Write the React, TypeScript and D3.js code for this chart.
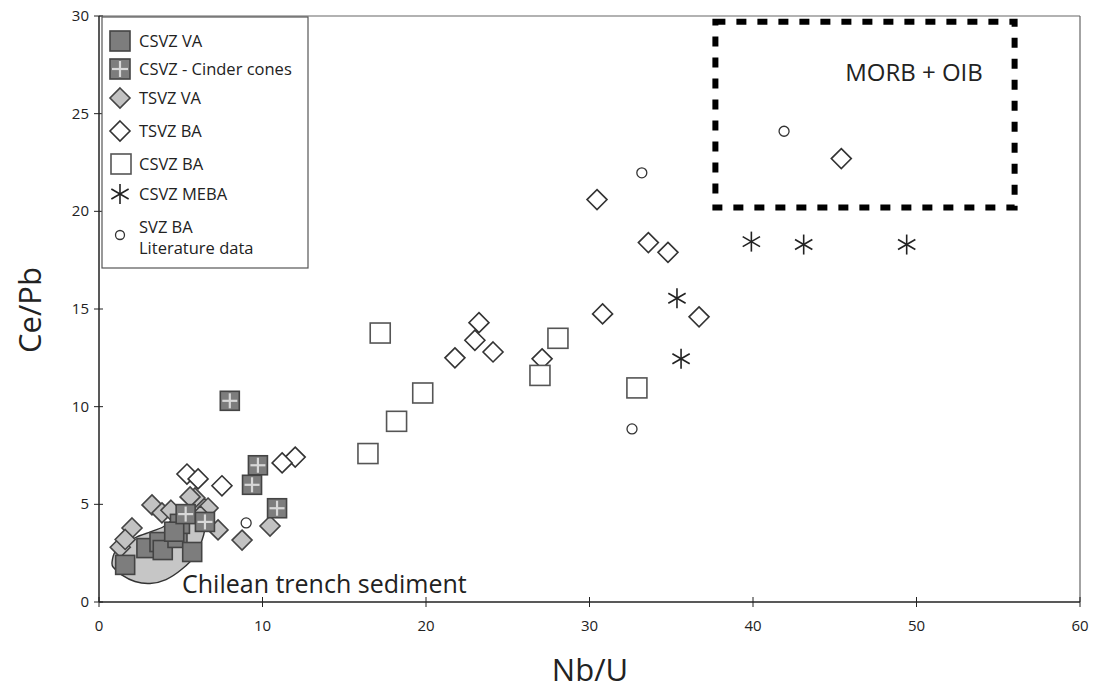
import React from "react";
import * as d3 from "d3";

// Nb/U vs Ce/Pb for Southern Volcanic Zone samples
type Pt = [number, number];

const xTicks = [0, 10, 20, 30, 40, 50, 60];
const yTicks = [0, 5, 10, 15, 20, 25, 30];

const csvzVA: Pt[] = [
  [1.6, 1.9], [2.9, 2.76], [3.7, 3.07], [3.9, 2.66], [4.8, 3.28],
  [5.7, 2.56], [4.95, 4.0], [4.6, 3.6],
];
const csvzCinder: Pt[] = [
  [8.0, 10.3], [9.72, 7.0], [9.36, 6.0], [10.89, 4.8], [6.48, 4.1], [5.3, 4.5],
];
const tsvzVA: Pt[] = [
  [8.75, 3.17], [10.46, 3.89], [7.28, 3.69], [2.02, 3.79], [3.24, 4.97],
  [3.85, 4.56], [5.87, 5.33], [6.67, 4.81], [5.57, 5.38], [1.3, 2.8],
  [1.6, 3.2], [4.4, 4.7], [6.2, 4.4],
];
const tsvzBA: Pt[] = [
  [45.4, 22.7], [30.46, 20.6], [33.6, 18.4], [34.8, 17.9], [30.8, 14.75],
  [36.7, 14.6], [23.24, 14.3], [22.99, 13.4], [24.1, 12.8], [21.77, 12.5],
  [27.1, 12.45], [12.0, 7.42], [11.2, 7.12], [7.52, 5.95], [5.38, 6.55],
  [6.06, 6.3],
];
const csvzBA: Pt[] = [
  [17.2, 13.77], [19.8, 10.7], [18.2, 9.25], [16.45, 7.6], [28.07, 13.5],
  [26.97, 11.6], [32.9, 10.96],
];
const csvzMEBA: Pt[] = [
  [39.9, 18.45], [43.1, 18.3], [49.4, 18.3], [35.35, 15.55], [35.6, 12.45],
];
const svzLit: Pt[] = [
  [41.9, 24.1], [33.2, 21.97], [32.6, 8.86], [9.0, 4.05],
];
// Chilean trench sediment field outline
const sedimentField: Pt[] = [
  [0.8, 2.05], [0.98, 2.56], [1.47, 2.92], [2.32, 3.33], [3.12, 3.58],
  [3.91, 3.84], [4.46, 4.2], [4.83, 4.6], [5.38, 5.0], [6.06, 5.3],
  [6.54, 5.2], [6.6, 4.45], [6.4, 3.43], [5.9, 2.4], [5.1, 1.7],
  [4.1, 1.15], [3.12, 0.95], [2.2, 1.05], [1.41, 1.38], [0.86, 1.79],
];
// MORB + OIB field: [x0, x1] and [y0, y1]
const morbX: Pt = [37.7, 56.0];
const morbY: Pt = [20.2, 29.7];

const legendItems = [
  "CSVZ VA",
  "CSVZ - Cinder cones",
  "TSVZ VA",
  "TSVZ BA",
  "CSVZ BA",
  "CSVZ MEBA",
  "SVZ BA",
];

const W = 1097;
const H = 694;
const x = d3.scaleLinear().domain([0, 60]).range([99, 1080]);
const y = d3.scaleLinear().domain([0, 30]).range([602, 16]);

const FONT = "'Open Sans', 'Liberation Sans', sans-serif";

const Square = ({ cx, cy, s, fill, stroke, sw = 1.6, cross = false }: any) => (
  <g>
    <rect x={cx - s / 2} y={cy - s / 2} width={s} height={s} fill={fill} stroke={stroke} strokeWidth={sw} />
    {cross && (
      <g stroke="#d8d8d8" strokeWidth={2.2}>
        <line x1={cx} x2={cx} y1={cy - s / 2 + 2} y2={cy + s / 2 - 2} />
        <line x1={cx - s / 2 + 2} x2={cx + s / 2 - 2} y1={cy} y2={cy} />
      </g>
    )}
  </g>
);

const Diamond = ({ cx, cy, r, fill, stroke }: any) => (
  <path
    d={`M${cx},${cy - r}L${cx + r},${cy}L${cx},${cy + r}L${cx - r},${cy}Z`}
    fill={fill}
    stroke={stroke}
    strokeWidth={1.6}
  />
);

const Star = ({ cx, cy, r }: any) => {
  const a = r * Math.cos(Math.PI / 6);
  const b = r * Math.sin(Math.PI / 6);
  return (
    <g stroke="#222" strokeWidth={1.6}>
      <line x1={cx} x2={cx} y1={cy - r} y2={cy + r} />
      <line x1={cx - a} x2={cx + a} y1={cy - b} y2={cy + b} />
      <line x1={cx - a} x2={cx + a} y1={cy + b} y2={cy - b} />
    </g>
  );
};

export default function App() {
  const fieldPath = d3
    .line<Pt>()
    .x((d) => x(d[0]))
    .y((d) => y(d[1]))
    .curve(d3.curveCardinalClosed.tension(0.3))(sedimentField) as string;

  const legendRows = [41, 69, 98, 131, 164, 194, 227];
  const lx = 120;

  return (
    <svg
      width={W}
      height={H}
      style={{ position: "absolute", left: 0, top: 0, background: "#fff" }}
      fontFamily={FONT}
    >
      <rect width={W} height={H} fill="#fff" />

      {/* frame */}
      <line x1={x(0)} x2={x(60)} y1={y(30)} y2={y(30)} stroke="#666" strokeWidth={1.2} />
      <line x1={x(60)} x2={x(60)} y1={y(30)} y2={y(0)} stroke="#666" strokeWidth={1.2} />

      {/* axes */}
      <line x1={x(0)} x2={x(60)} y1={y(0)} y2={y(0)} stroke="#222" strokeWidth={1.5} />
      <line x1={x(0)} x2={x(0)} y1={y(0)} y2={y(30)} stroke="#222" strokeWidth={1.5} />
      {xTicks.map((t) => (
        <g key={"xt" + t}>
          <line x1={x(t)} x2={x(t)} y1={y(0) - 5} y2={y(0) + 5} stroke="#222" strokeWidth={1} />
          <text x={x(t)} y={y(0) + 29} textAnchor="middle" fontSize={15} fill="#222">
            {t}
          </text>
        </g>
      ))}
      {yTicks.map((t) => (
        <g key={"yt" + t}>
          <line x1={x(0) - 5} x2={x(0) + 4} y1={y(t)} y2={y(t)} stroke="#222" strokeWidth={1} />
          <text x={x(0) - 10} y={y(t) + 5} textAnchor="end" fontSize={15} fill="#222">
            {t}
          </text>
        </g>
      ))}
      <text x={590} y={681} textAnchor="middle" fontSize={31} fill="#222">
        Nb/U
      </text>
      <text
        transform={`translate(41,310) rotate(-90)`}
        textAnchor="middle"
        fontSize={31}
        fill="#222"
      >
        Ce/Pb
      </text>

      {/* MORB + OIB field */}
      <rect
        x={x(morbX[0])}
        y={y(morbY[1])}
        width={x(morbX[1]) - x(morbX[0])}
        height={y(morbY[0]) - y(morbY[1])}
        fill="none"
        stroke="#000"
        strokeWidth={6}
        strokeDasharray="10,11"
      />
      <text x={914} y={81} textAnchor="middle" fontSize={24} fill="#222">
        MORB + OIB
      </text>

      {/* sediment field */}
      <path d={fieldPath} fill="#c6c6c6" stroke="#333" strokeWidth={1.4} />
      <text x={182} y={593} fontSize={25} fill="#222">
        Chilean trench sediment
      </text>

      {tsvzVA.map((d, i) => (
        <Diamond key={"tva" + i} cx={x(d[0])} cy={y(d[1])} r={10} fill="#c2c2c2" stroke="#444" />
      ))}
      {tsvzBA.map((d, i) => (
        <Diamond key={"tba" + i} cx={x(d[0])} cy={y(d[1])} r={10} fill="#fff" stroke="#333" />
      ))}
      {csvzVA.map((d, i) => (
        <Square key={"cva" + i} cx={x(d[0])} cy={y(d[1])} s={19} fill="#7d7d7d" stroke="#444" />
      ))}
      {csvzCinder.map((d, i) => (
        <Square key={"cc" + i} cx={x(d[0])} cy={y(d[1])} s={19} fill="#7d7d7d" stroke="#444" cross />
      ))}
      {csvzBA.map((d, i) => (
        <Square key={"cba" + i} cx={x(d[0])} cy={y(d[1])} s={20} fill="#fff" stroke="#555" />
      ))}
      {svzLit.map((d, i) => (
        <circle key={"svz" + i} cx={x(d[0])} cy={y(d[1])} r={5} fill="#fff" stroke="#333" strokeWidth={1.3} />
      ))}
      {csvzMEBA.map((d, i) => (
        <Star key={"me" + i} cx={x(d[0])} cy={y(d[1])} r={10} />
      ))}

      {/* legend */}
      <rect x={102} y={17} width={206} height={251} fill="#fff" stroke="#555" strokeWidth={1.2} />
      <Square cx={lx} cy={legendRows[0]} s={20} fill="#7d7d7d" stroke="#444" />
      <Square cx={lx} cy={legendRows[1]} s={20} fill="#7d7d7d" stroke="#444" cross />
      <Diamond cx={lx} cy={legendRows[2]} r={10} fill="#c2c2c2" stroke="#444" />
      <Diamond cx={lx} cy={legendRows[3]} r={10} fill="#fff" stroke="#333" />
      <Square cx={lx + 1} cy={legendRows[4]} s={20} fill="#fff" stroke="#555" />
      <Star cx={lx} cy={legendRows[5]} r={10} />
      <circle cx={lx} cy={235} r={4.5} fill="#fff" stroke="#333" strokeWidth={1.3} />
      {legendItems.map((t, i) => (
        <text key={"lg" + i} x={139} y={legendRows[i] + 6} fontSize={16.5} fill="#222">
          {t}
        </text>
      ))}
      <text x={139} y={254} fontSize={16.5} fill="#222">
        Literature data
      </text>
    </svg>
  );
}
